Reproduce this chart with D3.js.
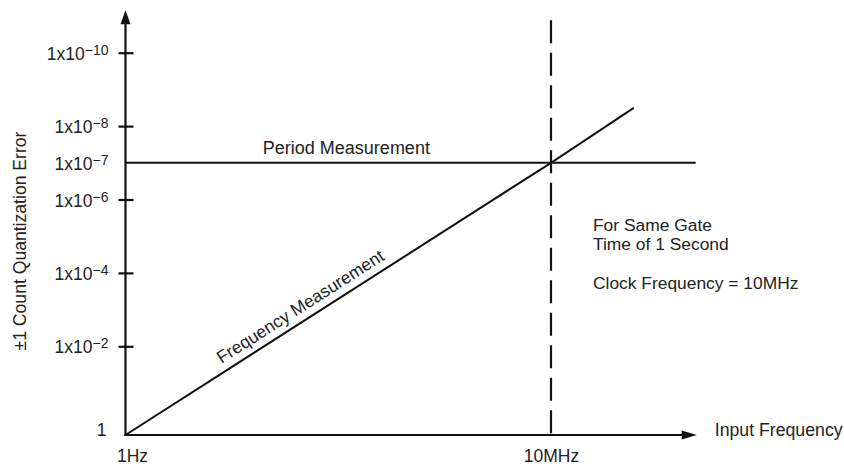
<!DOCTYPE html>
<html>
<head>
<meta charset="utf-8">
<script src="https://cdn.jsdelivr.net/npm/d3@7"></script>
<style>
  html, body { margin: 0; padding: 0; background: #fff; }
  svg { display: block; font-family: "Liberation Sans", Arial, Helvetica, sans-serif; }
  text { fill: #222; }
</style>
</head>
<body>
<svg id="chart" width="844" height="466"></svg>
<script>
// Input frequency (Hz) against the ±1 count quantization error of each method
const freqMeasHz = [1, 1e7, 2.3e8];
const freqMeasErr = [1, 1e-7, 3.2e-9];
const periodMeasHz = [1, 2.4e9];
const periodMeasErr = [1e-7, 1e-7];
const clockHz = 1e7;

// Axis ticks
const yTickValues = [1, 1e-2, 1e-4, 1e-6, 1e-7, 1e-8, 1e-10];
const yTickExponents = ["", "−2", "−4", "−6", "−7", "−8", "−10"];
const xTickValues = [1, 1e7];
const xTickLabels = ["1Hz", "10MHz"];

// Annotation text (empty entry = blank line)
const noteLines = ["For Same Gate", "Time of 1 Second", "", "Clock Frequency = 10MHz"];

// Axis extents (frequency / error units) for the arrowed axes and the clock marker
const xAxisEndHz = 2.5e9;
const yAxisEndErr = 7e-12;
const clockLineTopErr = 1.3e-11;

const svg = d3.select("#chart");

// Log frequency axis; error axis is inverted (smaller error towards the top)
const x = d3.scaleLog().domain([1, 1e7]).range([125.5, 551]);
const y = d3.scaleLog().domain([1, 1e-2, 1e-10]).range([435, 346.3, 52.7]);

const x0 = x(1), y0 = y(1);
const ink = "#111";

// ---- Y axis ----
const gy = svg.append("g")
  .attr("transform", `translate(${x0},0)`)
  .call(d3.axisLeft(y).tickValues(yTickValues).tickSize(0).tickPadding(0).tickFormat(() => ""));
gy.select(".domain").remove();
gy.selectAll(".tick").each(function (d, i) {
  const g = d3.select(this);
  g.select("line").remove();
  if (d !== 1 && d !== 1e-7) {
    g.append("line").attr("x1", -7).attr("x2", 8)
      .attr("stroke", ink).attr("stroke-width", 2.2);
  }
  const t = g.select("text")
    .attr("x", -17).attr("dy", null)
    .attr("y", d === 1 ? 0 : 6.5)
    .attr("text-anchor", "end")
    .style("font-size", "17.5px")
    .text(null);
  if (d === 1) {
    t.attr("x", -19).text("1");
  } else {
    t.append("tspan").text("1x10");
    t.append("tspan").attr("dy", -5).style("font-size", "14px").text(yTickExponents[i]);
  }
});

svg.append("line")
  .attr("x1", x0).attr("x2", x0)
  .attr("y1", y0 + 1).attr("y2", y(yAxisEndErr) + 10)
  .attr("stroke", ink).attr("stroke-width", 2.2);
svg.append("path")
  .attr("d", d3.line()([[x0, y(yAxisEndErr)], [x0 - 5, y(yAxisEndErr) + 14], [x0 + 5, y(yAxisEndErr) + 14]]) + "Z")
  .attr("fill", ink);

// ---- X axis ----
const gx = svg.append("g")
  .attr("transform", `translate(0,${y0})`)
  .call(d3.axisBottom(x).tickValues(xTickValues).tickSize(0).tickPadding(0)
    .tickFormat((d, i) => xTickLabels[i]));
gx.select(".domain").remove();
gx.selectAll(".tick text")
  .attr("y", 26.7).attr("dy", null)
  .attr("dx", (d, i) => i === 0 ? 6.5 : 0)
  .style("font-size", "17.5px");

svg.append("line")
  .attr("x1", x0 - 1).attr("x2", x(xAxisEndHz) - 10)
  .attr("y1", y0).attr("y2", y0)
  .attr("stroke", ink).attr("stroke-width", 2.2);
svg.append("path")
  .attr("d", d3.line()([[x(xAxisEndHz), y0], [x(xAxisEndHz) - 15, y0 - 4.5], [x(xAxisEndHz) - 15, y0 + 4.5]]) + "Z")
  .attr("fill", ink);

svg.append("text")
  .attr("x", x(xAxisEndHz) + 18).attr("y", y0 + 1)
  .style("font-size", "17.7px")
  .text("Input Frequency");

// Y axis title
svg.append("text")
  .attr("transform", `translate(26,241) rotate(-90)`)
  .attr("text-anchor", "middle")
  .style("font-size", "17.6px")
  .text("±1 Count Quantization Error");

// ---- Clock frequency marker ----
svg.append("line")
  .attr("x1", x(clockHz)).attr("x2", x(clockHz))
  .attr("y1", y(clockLineTopErr)).attr("y2", y0 - 1)
  .attr("stroke", ink).attr("stroke-width", 2.2)
  .attr("stroke-dasharray", "23 9.5");

// ---- Measurement lines ----
const line = d3.line().x(d => x(d[0])).y(d => y(d[1]));

svg.append("path")
  .datum(d3.zip(periodMeasHz, periodMeasErr))
  .attr("d", line)
  .attr("fill", "none").attr("stroke", ink).attr("stroke-width", 2);

svg.append("path")
  .datum(d3.zip(freqMeasHz, freqMeasErr))
  .attr("d", line)
  .attr("fill", "none").attr("stroke", ink).attr("stroke-width", 2);

// Line labels
svg.append("text")
  .attr("x", x(4.3e3)).attr("y", y(1e-7) - 9)
  .attr("text-anchor", "middle")
  .style("font-size", "18px")
  .text("Period Measurement");

const fx0 = x(freqMeasHz[0]), fy0 = y(freqMeasErr[0]);
const fx1 = x(freqMeasHz[1]), fy1 = y(freqMeasErr[1]);
const angle = Math.atan2(fy1 - fy0, fx1 - fx0) * 180 / Math.PI;
const lx = x(1e3);
const ly = fy0 + (lx - fx0) / (fx1 - fx0) * (fy1 - fy0);
svg.append("text")
  .attr("transform", `translate(${lx},${ly}) rotate(${angle})`)
  .attr("y", -8)
  .attr("text-anchor", "middle")
  .style("font-size", "17.5px")
  .text("Frequency Measurement");

// Notes, one text line per entry
svg.append("g")
  .selectAll("text")
  .data(noteLines)
  .join("text")
  .attr("x", 593)
  .attr("y", (d, i) => 231 + i * 19.2)
  .style("font-size", "17.4px")
  .text(d => d);
</script>
</body>
</html>
